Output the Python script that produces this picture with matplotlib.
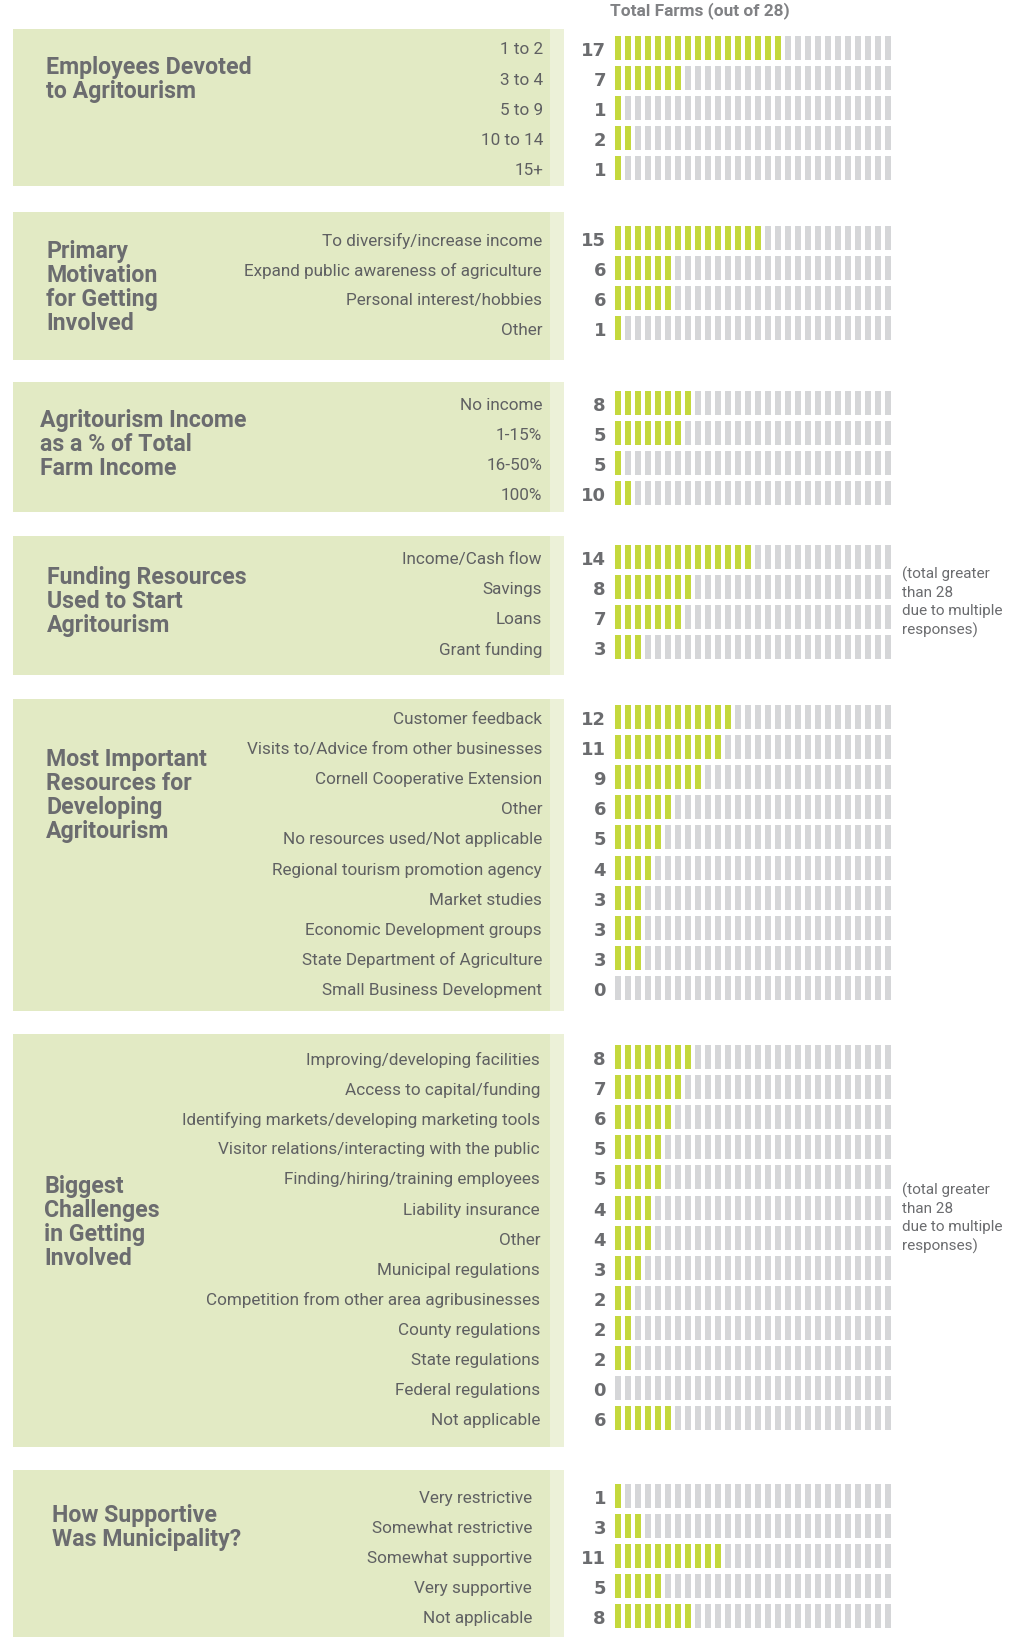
import numpy as np
import matplotlib
matplotlib.use("Agg")
import matplotlib.pyplot as plt
from matplotlib.patches import Rectangle

# ---- data -------------------------------------------------------------
TOTAL = 28

employees_title = ["Employees Devoted", "to Agritourism"]
employees_labels = ["1 to 2", "3 to 4", "5 to 9", "10 to 14", "15+"]
employees_values = [17, 7, 1, 2, 1]

motivation_title = ["Primary", "Motivation", "for Getting", "Involved"]
motivation_labels = ["To diversify/increase income",
                     "Expand public awareness of agriculture",
                     "Personal interest/hobbies", "Other"]
motivation_values = [15, 6, 6, 1]

income_title = ["Agritourism Income", "as a % of Total", "Farm Income"]
income_labels = ["No income", "1-15%", "16-50%", "100%"]
income_values = [8, 5, 5, 10]
income_filled = [8, 7, 1, 2]  # bars as drawn in the source

funding_title = ["Funding Resources", "Used to Start", "Agritourism"]
funding_labels = ["Income/Cash flow", "Savings", "Loans", "Grant funding"]
funding_values = [14, 8, 7, 3]

resources_title = ["Most Important", "Resources for", "Developing", "Agritourism"]
resources_labels = ["Customer feedback", "Visits to/Advice from other businesses",
                    "Cornell Cooperative Extension", "Other",
                    "No resources used/Not applicable",
                    "Regional tourism promotion agency", "Market studies",
                    "Economic Development groups",
                    "State Department of Agriculture",
                    "Small Business Development"]
resources_values = [12, 11, 9, 6, 5, 4, 3, 3, 3, 0]

challenges_title = ["Biggest", "Challenges", "in Getting", "Involved"]
challenges_labels = ["Improving/developing facilities", "Access to capital/funding",
                     "Identifying markets/developing marketing tools",
                     "Visitor relations/interacting with the public",
                     "Finding/hiring/training employees", "Liability insurance",
                     "Other", "Municipal regulations",
                     "Competition from other area agribusinesses",
                     "County regulations", "State regulations",
                     "Federal regulations", "Not applicable"]
challenges_values = [8, 7, 6, 5, 5, 4, 4, 3, 2, 2, 2, 0, 6]

municipality_title = ["How Supportive", "Was Municipality?"]
municipality_labels = ["Very restrictive", "Somewhat restrictive",
                       "Somewhat supportive", "Very supportive", "Not applicable"]
municipality_values = [1, 3, 11, 5, 8]

note_text = "(total greater\nthan 28\ndue to multiple\nresponses)"

# ---- style ------------------------------------------------------------
GREEN = "#c4d83c"
GRAY = "#d5d6d8"
PANEL = "#e2eac4"
TEXT = "#5f6062"
NUM = "#6b6c6f"

BAR_X0 = 615
PITCH = 10.0
BAR_W = 6
BAR_H = 24
ROW = 30.1
TITLE_LINE = 24

# (title, labels, values, filled, panel_top, panel_bottom, first_row,
#  title_x, title_y, label_right, note_y)
sections = [
    (employees_title, employees_labels, employees_values, None,
     29, 186, 47.5, 46, 65, 543, None),
    (motivation_title, motivation_labels, motivation_values, None,
     212, 360, 238, 46, 249, 542, None),
    (income_title, income_labels, income_values, income_filled,
     382, 512, 403, 40, 418, 542, None),
    (funding_title, funding_labels, funding_values, None,
     536, 675, 557, 47, 575, 542, 602),
    (resources_title, resources_labels, resources_values, None,
     699, 1011, 717, 46, 757, 542, None),
    (challenges_title, challenges_labels, challenges_values, None,
     1034, 1447, 1057, 44, 1184, 540, 1218),
    (municipality_title, municipality_labels, municipality_values, None,
     1470, 1640, 1496, 52, 1513, 532, None),
]

fig = plt.figure(figsize=(10.17, 16.37), dpi=100)
ax = fig.add_axes([0, 0, 1, 1])
ax.set_xlim(0, 1017)
ax.set_ylim(1637, 0)
ax.axis("off")

ax.text(700, 11, "Total Farms (out of 28)", ha="center", va="center",
        fontsize=12.4, fontweight="bold", color="#808184", family="Roboto")

xs = BAR_X0 + PITCH * np.arange(TOTAL)
for (title, labels, values, filled, top, bottom, y0,
     tx, ty, lx, note_y) in sections:
    ax.add_patch(Rectangle((13, top), 551, bottom - top, color=PANEL,
                           zorder=0, lw=0))
    # faded right edge of the textured panel
    ax.add_patch(Rectangle((550, top), 14, bottom - top, color="white",
                           alpha=0.35, zorder=0.5, lw=0))
    for i, line in enumerate(title):
        ax.text(tx, ty + i * TITLE_LINE, line, ha="left",
                va="center_baseline", fontsize=16.7, fontweight="bold",
                color=NUM, family="Roboto")
    if filled is None:
        filled = values
    ys = [y0 + i * ROW for i in range(len(labels))]
    for y, lab, val, n in zip(ys, labels, values, filled):
        ax.text(lx, y + 1, lab, ha="right", va="center_baseline",
                fontsize=12.3, color=TEXT, family="Roboto")
        ax.text(606, y + 1, str(val), ha="right", va="center_baseline",
                fontsize=13, fontweight="bold", color=NUM,
                family="DejaVu Sans")
        colors = [GREEN if k < n else GRAY for k in range(TOTAL)]
        ax.bar(xs, BAR_H, width=BAR_W, bottom=y - BAR_H / 2, align="edge",
               color=colors, lw=0, zorder=2)
    if note_y is not None:
        ax.text(902, note_y, note_text, ha="left", va="center", fontsize=11,
                color=NUM, family="Roboto", linespacing=1.38)

fig.savefig("out.png", dpi=100)
